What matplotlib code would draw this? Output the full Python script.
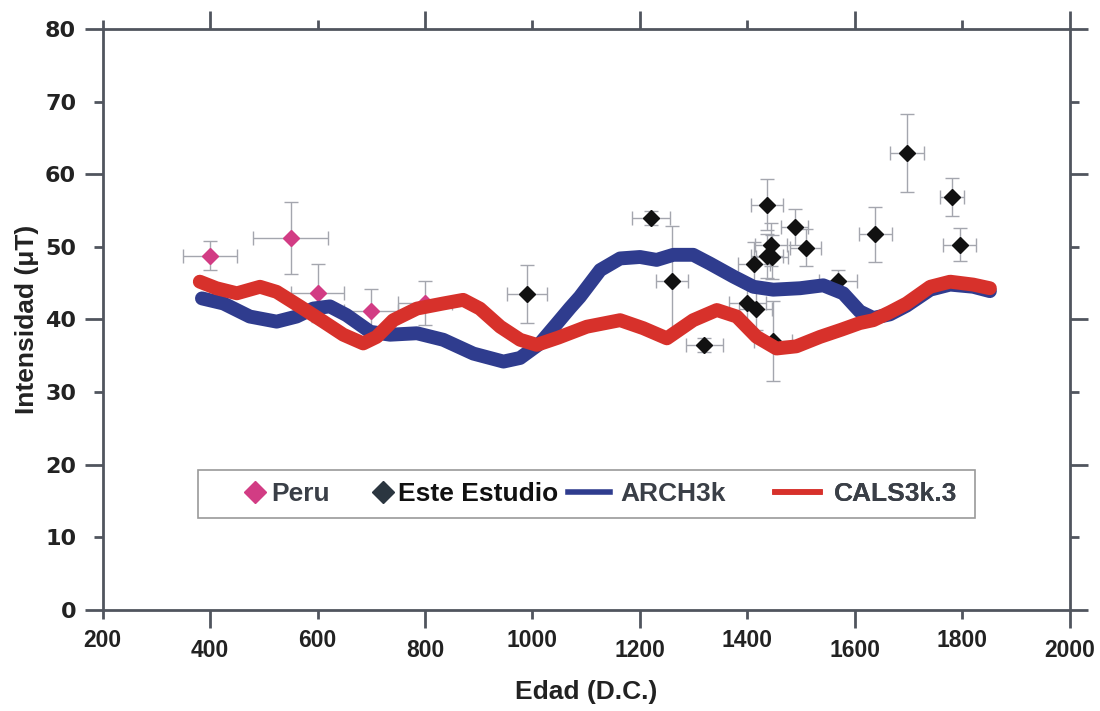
import matplotlib
matplotlib.use("Agg")
import matplotlib.pyplot as plt
from matplotlib.lines import Line2D
from matplotlib.patches import Rectangle
from matplotlib import font_manager

# ---------------- data ----------------
peru_x = [400, 550, 600, 700, 800]
peru_y = [48.8, 51.2, 43.7, 41.2, 42.3]
peru_xerr = [50, 70, 50, 50, 50]
peru_yerr = [2.0, 5.0, 4.0, 3.0, 3.0]

este_x = [990, 1220, 1260, 1320, 1400, 1415, 1412, 1437, 1446, 1444, 1437, 1488, 1508, 1447, 1568, 1638, 1697, 1780, 1795]
este_y = [43.5, 54.0, 45.3, 36.5, 42.3, 41.5, 47.7, 48.7, 48.6, 50.3, 55.8, 52.7, 49.9, 37.0, 45.3, 51.7, 62.9, 56.9, 50.3]
este_xerr = [37, 35, 30, 35, 35, 30, 30, 30, 30, 30, 30, 25, 28, 35, 35, 31, 32, 22, 31]
este_yerr = [4.0, 1.0, 7.5, 1.0, 3.0, 3.0, 3.0, 3.0, 3.0, 3.0, 3.5, 2.5, 2.5, 5.5, 1.5, 3.8, 5.4, 2.6, 2.3]

arch_years = [385, 425, 474, 524, 561, 592, 623, 654, 698, 735, 785, 834, 890, 946, 977, 1014, 1045, 1070,
              1088, 1126, 1163, 1200, 1231, 1262, 1299, 1330, 1374, 1411, 1448, 1498, 1541, 1578, 1609,
              1634, 1665, 1696, 1740, 1777, 1820, 1851]
arch_vals = [42.9, 42.2, 40.4, 39.7, 40.4, 41.5, 41.8, 40.6, 38.3, 37.9, 38.1, 37.2, 35.3, 34.2, 34.7, 36.7, 39.4, 41.6,
             43.1, 46.8, 48.4, 48.6, 48.2, 48.9, 48.9, 47.7, 45.9, 44.5, 44.1, 44.3, 44.7, 43.6, 41.1,
             40.2, 40.7, 41.9, 44.1, 44.8, 44.5, 43.9]

cals_years = [381, 412, 450, 493, 524, 567, 611, 648, 685, 710, 741, 785, 834, 871, 902, 940, 977, 1008, 1048,
              1101, 1163, 1206, 1250, 1299, 1343, 1380, 1417, 1454, 1491, 1535, 1575, 1609, 1634, 1665,
              1696, 1740, 1777, 1820, 1851]
cals_vals = [45.2, 44.3, 43.6, 44.5, 43.8, 41.8, 39.7, 37.9, 36.7, 37.6, 39.9, 41.5, 42.2, 42.7, 41.5, 39.0, 37.2, 36.5, 37.5,
             39.0, 39.9, 38.8, 37.4, 39.9, 41.3, 40.4, 37.6, 36.0, 36.3, 37.6, 38.6, 39.5, 39.9, 41.0,
             42.2, 44.5, 45.2, 44.8, 44.3]

x_major = [400, 800, 1200, 1600, 2000]
x_minor = [200, 600, 1000, 1400, 1800]
y_major = [0, 20, 40, 60, 80]
y_minor = [10, 30, 50, 70]

labels = ["Peru", "Este Estudio", "ARCH3k", "CALS3k.3"]

# ---------------- style ----------------
avail = {f.name for f in font_manager.fontManager.ttflist}
fam = "Liberation Sans Narrow" if "Liberation Sans Narrow" in avail else "Liberation Sans"
plt.rcParams["font.family"] = [fam, "DejaVu Sans"]

PINK = "#D23C84"
BLACK = "#111111"
BLUE = "#2F3C8E"
RED = "#D7312B"
AXC = "#50555e"
ERRC = "#a4a6ae"
TXT = "#222222"

fig = plt.figure(figsize=(11, 7.11), dpi=100)
ax = fig.add_axes([0.0932, 0.1421, 0.8795, 0.8172])

# error bars and points
ax.errorbar(peru_x, peru_y, xerr=peru_xerr, yerr=peru_yerr, fmt="none", ecolor=ERRC,
            elinewidth=1.0, capsize=5, capthick=1.0, zorder=1)
ax.errorbar(este_x, este_y, xerr=este_xerr, yerr=este_yerr, fmt="none", ecolor=ERRC,
            elinewidth=1.0, capsize=5, capthick=1.0, zorder=1)
ax.plot(peru_x, peru_y, linestyle="none", marker="D", markersize=8.5, color=PINK, zorder=2)
ax.plot(este_x, este_y, linestyle="none", marker="D", markersize=8.5, color=BLACK, zorder=2)

# model curves
ax.plot(arch_years, arch_vals, color=BLUE, lw=10, solid_capstyle="round", solid_joinstyle="round", zorder=3)
ax.plot(cals_years, cals_vals, color=RED, lw=10, solid_capstyle="round", solid_joinstyle="round", zorder=4)

ax.set_xlim(200, 2000)
ax.set_ylim(0, 80)

for s in ax.spines.values():
    s.set_color(AXC)
    s.set_linewidth(2.0)

ax.set_xticks(x_major)
ax.set_xticks(x_minor, minor=True)
ax.set_yticks(y_major)
ax.set_yticks(y_minor, minor=True)
ax.set_xticklabels([str(v) for v in x_major], fontweight="bold", color=TXT)
ax.set_xticklabels([str(v) for v in x_minor], minor=True, fontweight="bold", color=TXT)
ax.set_yticklabels([str(v) for v in y_major], fontweight="bold", color=TXT, family="DejaVu Sans")
ax.set_yticklabels([str(v) for v in y_minor], minor=True, fontweight="bold", color=TXT, family="DejaVu Sans")

ax.tick_params(axis="x", which="major", direction="out", length=13, width=2.0, color=AXC,
               pad=8, labelsize=16.5, top=True, labeltop=False)
ax.tick_params(axis="x", which="minor", direction="out", length=6.5, width=2.0, color=AXC,
               pad=7, labelsize=16.5, top=True, labeltop=False)
ax.tick_params(axis="y", which="major", direction="out", length=13, width=2.0, color=AXC,
               pad=6, labelsize=16, right=True, labelright=False)
ax.tick_params(axis="y", which="minor", direction="out", length=6.5, width=2.0, color=AXC,
               pad=12.5, labelsize=16, right=True, labelright=False)

ax.set_xlabel("Edad (D.C.)", fontsize=19, fontweight="bold", color=TXT, labelpad=13)
ax.set_ylabel("Intensidad (\u03bcT)", fontsize=19, fontweight="bold", color=TXT, labelpad=4)

# ---------------- legend ----------------
ax.add_patch(Rectangle((0.0987, 0.1583), 0.8031, 0.0827, transform=ax.transAxes,
                       facecolor="white", edgecolor="#9a9a9a", linewidth=1.2, zorder=5))

handles = [
    Line2D([], [], linestyle="none", marker="D", markersize=11, color=PINK),
    Line2D([], [], linestyle="none", marker="D", markersize=11, color="#2b3640"),
    Line2D([], [], color=BLUE, lw=4),
    Line2D([], [], color=RED, lw=4),
]
leg_x = [0.147, 0.2786, 0.481, 0.695]
leg_hl = [0.8, 0.8, 1.6, 1.7]
leg_tp = [0.2, 0.2, 0.4, 0.55]
leg_col = ["#3a3f47", "#111111", "#3a3f47", "#3a3f47"]
for h, lab, lx, hl, tp, c in zip(handles, labels, leg_x, leg_hl, leg_tp, leg_col):
    lg = ax.legend([h], [lab], loc="center left", bbox_to_anchor=(lx, 0.1997),
                   frameon=False, handlelength=hl, handletextpad=tp, borderpad=0.0,
                   borderaxespad=0.0, prop={"family": [fam, "DejaVu Sans"], "weight": "bold", "size": 19})
    lg.get_texts()[0].set_color(c)
    lg.set_zorder(6)
    ax.add_artist(lg)

fig.savefig("out.png", dpi=100)
